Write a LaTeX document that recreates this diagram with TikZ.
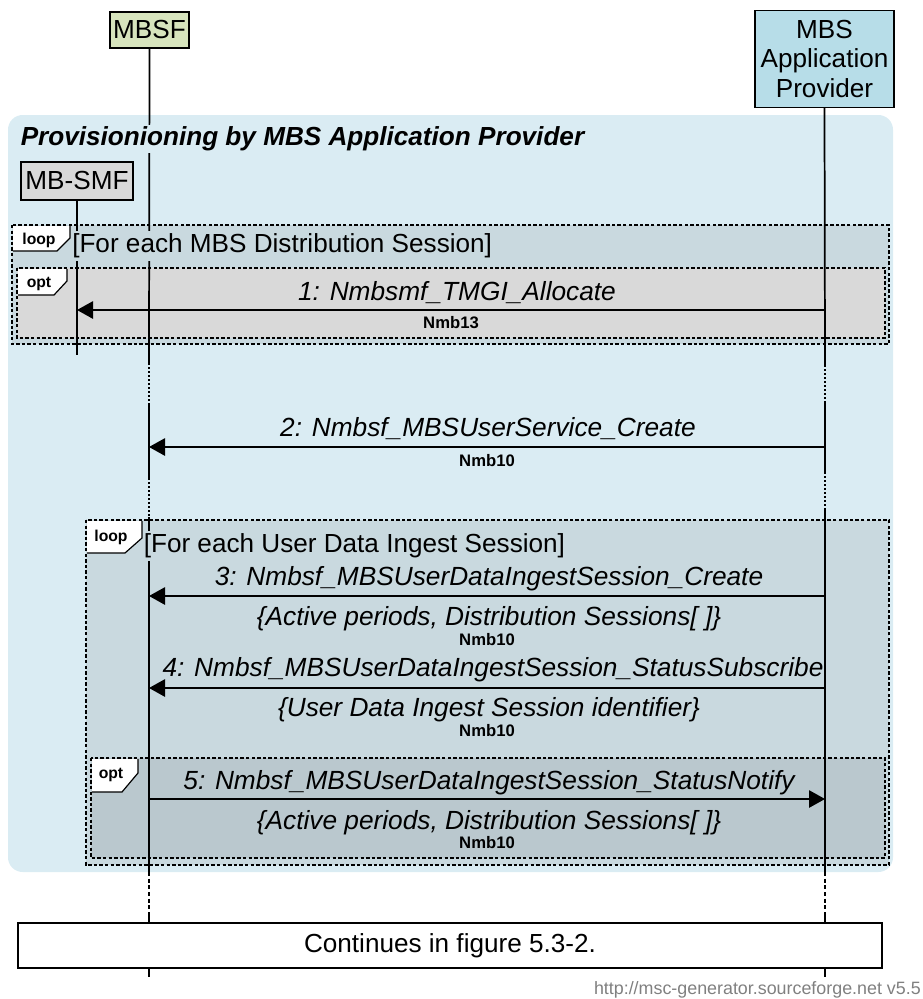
\documentclass[tikz,border=0pt]{standalone}
\usepackage{fontspec}
\setmainfont{Liberation Sans}
\usetikzlibrary{arrows.meta}
\definecolor{grpfill}{RGB}{218,236,243}
\definecolor{loopfill}{RGB}{201,217,223}
\definecolor{optAfill}{RGB}{217,217,217}
\definecolor{optBfill}{RGB}{186,200,206}
\definecolor{mbsffill}{RGB}{215,228,189}
\definecolor{appfill}{RGB}{183,221,232}
\definecolor{smffill}{RGB}{217,217,217}
\definecolor{footgray}{RGB}{128,128,128}
\tikzset{
  hdrbox/.style={draw=black, line width=0.9pt, align=center, inner sep=0pt, font=\fontsize{19.6}{22}\selectfont},
  lbl/.style={inner sep=0pt, font=\fontsize{19.7}{22}\selectfont\itshape},
  iface/.style={inner sep=0pt, font=\fontsize{12.5}{14}\selectfont\bfseries},
  tagtxt/.style={inner sep=0pt, font=\fontsize{11.8}{13}\selectfont\bfseries},
  frametxt/.style={inner xsep=0pt, inner ysep=2pt, anchor=west, font=\fontsize{19.6}{22}\selectfont},
  life/.style={line width=1.3pt},
  lifedot/.style={line width=1.3pt, dash pattern=on 1.5pt off 1.5pt},
  lifedash/.style={line width=1.3pt, dash pattern=on 3pt off 2pt},
  framebox/.style={line width=1pt, dash pattern=on 2.6pt off 1.6pt},
  tagline/.style={line width=0.9pt},
  msg/.style={line width=1.3pt, -{Triangle[length=12pt,width=13pt]}},
}
\begin{document}
\begin{tikzpicture}[x=0.75pt,y=-0.75pt]
\useasboundingbox (0,0) rectangle (922,999);

% group background
\fill[grpfill, rounded corners=11pt] (8,115) rectangle (893,872);

% loop 1 and opt 1
\filldraw[fill=loopfill, framebox] (12,225) rectangle (889,344);
\filldraw[fill=optAfill, framebox] (17,268) rectangle (885,338);
% loop 2 and opt 2
\filldraw[fill=loopfill, framebox] (86,520) rectangle (889,865);
\filldraw[fill=optBfill, framebox] (91,758) rectangle (885,858);

% headers
\node[hdrbox, fill=mbsffill, minimum width=59.25pt, minimum height=27pt] (mbsf) at (149.5,30) {MBSF};
\node[hdrbox, fill=appfill, minimum width=104.25pt, minimum height=72.75pt] (app) at (824.5,59) {MBS\\Application\\Provider};
\node[hdrbox, fill=smffill, minimum width=84pt, minimum height=28.5pt] (smf) at (77,181) {MB-SMF};

% lifeline coordinates
\coordinate (ma) at (149,363);
\coordinate (mb) at (149,403);
\coordinate (mc) at (149,478);
\coordinate (md) at (149,517);
\coordinate (me) at (149,872);
\coordinate (mf) at (149,915);
\coordinate (aa) at (825,365);
\coordinate (ab) at (825,403);
\coordinate (ac) at (825,472);
\coordinate (ad) at (825,510);
\coordinate (ae) at (825,872);
\coordinate (af) at (825,915);
\coordinate (sa) at (77,355);

% continues box
\node[draw=black, line width=0.9pt, fill=white, minimum width=648pt, minimum height=33.75pt, inner sep=0pt, font=\fontsize{19.6}{22}\selectfont] (cont) at (450,945.5) {Continues in figure 5.3-2.};
\coordinate (mend) at (149,977);
\coordinate (aend) at (825,977);

% lifelines
\draw[life] (mbsf.south) -- (ma);
\draw[lifedot] (ma) -- (mb);
\draw[life] (mb) -- (mc);
\draw[lifedot] (mc) -- (md);
\draw[life] (md) -- (me);
\draw[lifedash] (me) -- (mf);
\draw[life] (mf) -- (cont.north -| mf);
\draw[life] (cont.south -| mend) -- (mend);

\draw[life] (app.south) -- (aa);
\draw[lifedot] (aa) -- (ab);
\draw[life] (ab) -- (ac);
\draw[lifedot] (ac) -- (ad);
\draw[life] (ad) -- (ae);
\draw[lifedash] (ae) -- (af);
\draw[life] (af) -- (cont.north -| af);
\draw[life] (cont.south -| aend) -- (aend);

\draw[life] (smf.south) -- (sa);

% group title and loop texts (mask lifelines)
\node[inner sep=1.5pt, fill=grpfill, anchor=west, font=\fontsize{19.6}{22}\selectfont\bfseries\itshape] (grptitle) at (18.5,139) {Provisionioning by MBS Application Provider};
\node[frametxt, fill=loopfill] (loopAtxt) at (72,246) {[For each MBS Distribution Session]};
\node[frametxt, fill=loopfill] (loopBtxt) at (143.5,546) {[For each User Data Ingest Session]};

% tags
\fill[white] (13,226) -- (70,226) -- (70,238) -- (57,251) -- (13,251) -- cycle;
\draw[tagline] (70,226) -- (70,238) -- (57,251) -- (13,251);
\node[tagtxt] (tagloopA) at (39,240) {loop};
\fill[white] (18,269) -- (67,269) -- (67,281) -- (54,295) -- (18,295) -- cycle;
\draw[tagline] (67,269) -- (67,281) -- (54,295) -- (18,295);
\node[tagtxt] (tagoptA) at (39,284) {opt};
\fill[white] (87,521) -- (142,521) -- (142,538) -- (125,553) -- (87,553) -- cycle;
\draw[tagline] (142,521) -- (142,538) -- (125,553) -- (87,553);
\node[tagtxt] (tagloopB) at (111,537) {loop};
\fill[white] (92,759) -- (138,759) -- (138,773) -- (122,792) -- (92,792) -- cycle;
\draw[tagline] (138,759) -- (138,773) -- (122,792) -- (92,792);
\node[tagtxt] (tagoptB) at (111,775) {opt};

% message endpoints
\coordinate (m1s) at (825,310); \coordinate (m1e) at (77,310);
\coordinate (m2s) at (825,447); \coordinate (m2e) at (149,447);
\coordinate (m3s) at (825,596); \coordinate (m3e) at (149,596);
\coordinate (m4s) at (825,688); \coordinate (m4e) at (149,688);
\coordinate (m5s) at (149,799); \coordinate (m5e) at (825,799);

\draw[msg] (m1s) -- (m1e);
\draw[msg] (m2s) -- (m2e);
\draw[msg] (m3s) -- (m3e);
\draw[msg] (m4s) -- (m4e);
\draw[msg] (m5s) -- (m5e);

% labels
\node[lbl] (l1) at (457,293) {1: Nmbsmf\_TMGI\_Allocate};
\node[iface] (i1) at (451,323) {Nmb13};
\node[lbl] (l2) at (488,429) {2: Nmbsf\_MBSUserService\_Create};
\node[iface] (i2) at (487,461) {Nmb10};
\node[lbl] (l3) at (489,579) {3: Nmbsf\_MBSUserDataIngestSession\_Create};
\node[lbl] (p3) at (489,619) {\{Active periods, Distribution Sessions[ ]\}};
\node[iface] (i3) at (487,640) {Nmb10};
\node[lbl] (l4) at (493,670) {4: Nmbsf\_MBSUserDataIngestSession\_StatusSubscribe};
\node[lbl] (p4) at (489,710) {\{User Data Ingest Session identifier\}};
\node[iface] (i4) at (487,731) {Nmb10};
\node[lbl] (l5) at (489,783) {5: Nmbsf\_MBSUserDataIngestSession\_StatusNotify};
\node[lbl] (p5) at (489,823) {\{Active periods, Distribution Sessions[ ]\}};
\node[iface] (i5) at (487,843) {Nmb10};

% footer
\node[inner sep=0pt, anchor=east, text=footgray, font=\fontsize{13.4}{15}\selectfont] (foot) at (921,990) {http://msc-generator.sourceforge.net v5.5};
\end{tikzpicture}
\end{document}
